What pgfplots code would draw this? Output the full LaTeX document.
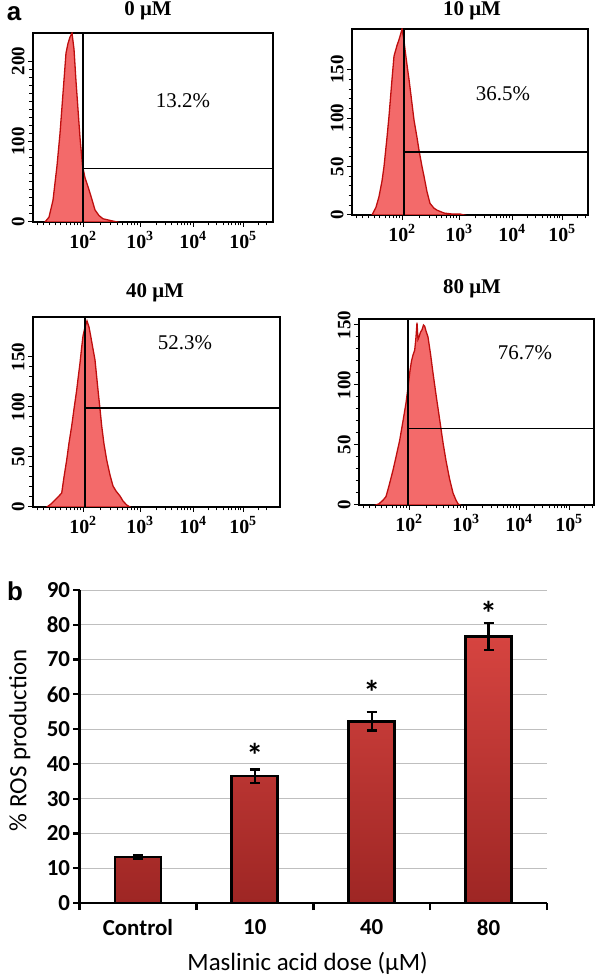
\documentclass[border=0pt]{standalone}
\usepackage{fontspec}
\setmainfont{Liberation Serif}
\newfontfamily\carlito{Carlito}
\newfontfamily\arialf{Liberation Sans}
\usepackage{pgfplots}
\pgfplotsset{compat=1.18}
\definecolor{histfill}{RGB}{243,106,106}
\definecolor{histline}{RGB}{190,14,14}
\definecolor{bartop}{RGB}{214,68,64}
\definecolor{barbot}{RGB}{158,38,36}
\pgfplotsset{
  histo/.style={
    anchor=south west, scale only axis,
    axis line style={black, line width=1.2bp},
    tick align=outside,
    tick style={black, line width=1bp},
    major tick length=5bp, minor tick length=3.5bp,
    xmin=0, ymin=0,
    xtick pos=bottom, ytick pos=left,
    /pgf/number format/assume math mode=true,
    xtick={50,107,160,210},
    xticklabels={\textbf{10\textsuperscript{2}},\textbf{10\textsuperscript{3}},\textbf{10\textsuperscript{4}},\textbf{10\textsuperscript{5}}},
    minor xtick={4,10,16,22,27,33,37,41,44.5,47.4,67.2,77.2,84.3,89.8,94.3,98.2,101.5,104.4,123,132.3,138.9,144,148.2,151.8,154.9,157.6,175,183.9,190.1,195,198.9,202.3,205.2,207.7,225,233},
    yticklabel style={rotate=90, anchor=south, font=\fontsize{19}{19}\selectfont\bfseries},
    xticklabel style={font=\fontsize{20}{20}\selectfont\bfseries, yshift=-1bp},
  },
  hist/.style={fill=histfill, draw=histline, line width=1.3bp},
  gate/.style={black, line width=1.2bp},
}
\begin{document}
\begin{tikzpicture}[x=1bp,y=1bp]
\path[use as bounding box] (0bp,0bp) rectangle (598bp,977bp);
% panel labels
\node[font=\arialf\bfseries\fontsize{26}{26}\selectfont] at (14bp,963bp) {a};
\node[font=\arialf\bfseries\fontsize{26}{26}\selectfont] at (15bp,386bp) {b};
% titles
\node[font=\bfseries\fontsize{21}{21}\selectfont] at (148bp,966bp) {0 μM};
\node[font=\bfseries\fontsize{21}{21}\selectfont] at (472bp,966bp) {10 μM};
\node[font=\bfseries\fontsize{21}{21}\selectfont] at (155bp,684bp) {40 μM};
\node[font=\bfseries\fontsize{21}{21}\selectfont] at (472bp,688bp) {80 μM};

% Panel 1: 0 uM
\begin{axis}[histo, at={(33bp,755bp)}, width=240bp, height=189bp, xmax=240, ymax=235,
  ytick={0,100,200}, minor y tick num=9]
\addplot[hist] coordinates {(12,0)(16,6)(20,27)(24,70)(27,110)(30,160)(33,210)(35,222)(37,230)(39,235)(41,215)(43,175)(45,140)(47,105)(49.5,70)(52,55)(55,44)(58,32)(62,15)(66,8)(70,4)(77,2)(84,0)} \closedcycle;
\addplot[gate] coordinates {(50,0)(50,235)};
\addplot[gate] coordinates {(50,67)(240,67)};
\node[font=\fontsize{21}{21}\selectfont] at (axis cs:150,151) {13.2\%};
\end{axis}

% Panel 2: 10 uM
\begin{axis}[histo, at={(352bp,762bp)}, width=236bp, height=186bp, xmax=236, ymax=192,
  ytick={0,50,100,150}, minor y tick num=4]
\addplot[hist] coordinates {(20,0)(24,8)(27,19)(30,35)(32,50)(35,80)(37,102)(40,140)(42,164)(45,175)(47,181)(49,188)(50,192)(52,180)(53,171)(55,155)(57,140)(60,115)(62,98)(65,80)(67,67)(70,50)(72,40)(75,24)(78,12)(82,7)(85,5)(92,2)(100,1)(108,1)(112,0)} \closedcycle;
\addplot[gate] coordinates {(52,0)(52,192)};
\addplot[gate] coordinates {(52,65)(236,65)};
\node[font=\fontsize{21}{21}\selectfont] at (axis cs:151,125) {36.5\%};
\end{axis}

% Panel 3: 40 uM
\begin{axis}[histo, at={(33bp,470bp)}, width=247bp, height=190bp, xmax=247, ymax=190,
  ytick={0,50,100,150}, minor y tick num=4]
\addplot[hist] coordinates {(14,0)(18,3)(22,7)(26,11)(28.7,14)(31,30)(33.7,47)(36,64)(38.7,81)(41,98)(43.7,117)(45.5,132)(47,144)(48.5,158)(50,171)(52,180)(54,186)(56,180)(57.7,171)(60,158)(62,147)(63.5,132)(65,117)(67,98)(68.7,81)(71,63)(73.7,47)(77,32)(80,21)(83,16)(87,11)(90,6)(93.7,2)(97,0)} \closedcycle;
\addplot[gate] coordinates {(52,0)(52,190)};
\addplot[gate] coordinates {(52,99)(247,99)};
\node[font=\fontsize{21}{21}\selectfont] at (axis cs:152,164) {52.3\%};
\end{axis}

% Panel 4: 80 uM
\begin{axis}[histo, at={(359bp,472bp)}, width=235bp, height=186bp, xmax=235, ymax=155,
  ytick={0,50,100,150}, minor y tick num=4]
\addplot[hist] coordinates {(17,0)(20,1)(24,4)(27,7)(30,16)(34,29)(37,40)(40.7,54)(44,70)(47,85)(49,98)(51,112)(52.5,120)(54,125)(55.7,129)(57,140)(58,152)(59,138)(60,140)(61.5,144)(63,146)(64.5,150)(65.7,149)(67,145)(69,140)(71.5,126)(74,110)(77,92)(80.7,71)(84,52)(87,37)(90.5,22)(94,10)(97,4)(99,1)(101,0)} \closedcycle;
\addplot[gate] coordinates {(49,0)(49,155)};
\addplot[gate] coordinates {(49,64)(235,64)};
\node[font=\fontsize{21}{21}\selectfont] at (axis cs:166,127) {76.7\%};
\end{axis}

% Panel b: bar chart
\begin{axis}[anchor=south west, at={(79.5bp,74bp)}, scale only axis, width=467.5bp, height=313bp,
  xmin=-0.5, xmax=3.5, ymin=0, ymax=90,
  axis x line=bottom, axis y line=left,
  axis line style={-, line width=2.6bp, black},
  xtick={0,1,2,3}, xticklabels={Control,10,40,80},
  minor xtick={-0.5,0.5,1.5,2.5,3.5},
  major x tick style={draw=none},
  minor x tick style={line width=2.6bp, black},
  ytick={0,10,...,90},
  y tick style={line width=2.2bp, black},
  tick align=outside, major tick length=6bp, minor tick length=7bp,
  ymajorgrids, grid style={black!25, line width=1bp},
  ticklabel style={font=\carlito\bfseries\fontsize{23}{23}\selectfont},
  xticklabel style={yshift=-7bp},
  /pgf/number format/assume math mode=true,
  ylabel={\% ROS production}, xlabel={Maslinic acid dose (μM)},
  label style={font=\carlito\fontsize{25}{25}\selectfont},
  ylabel style={at={(axis description cs:-0.128,0.52)}, anchor=center},
  xlabel style={at={(axis description cs:0.488,-0.192)}, anchor=center},
  ybar, bar width=46bp,
]
\addplot[draw=black, line width=2.8bp, top color=bartop, bottom color=barbot,
  error bars/.cd, y dir=both, y explicit,
  error bar style={line width=2.2bp, black},
  error mark options={rotate=90, mark size=5bp, line width=2.2bp, black}]
  coordinates {(0,13.2) +- (0,0.6) (1,36.5) +- (0,1.9) (2,52.3) +- (0,2.7) (3,76.7) +- (0,3.9)};
\node[font=\carlito\bfseries\fontsize{34}{34}\selectfont] at (axis cs:1,42.5) {*};
\node[font=\carlito\bfseries\fontsize{34}{34}\selectfont] at (axis cs:2,60.7) {*};
\node[font=\carlito\bfseries\fontsize{34}{34}\selectfont] at (axis cs:3,83.2) {*};
\end{axis}
\end{tikzpicture}
\end{document}
